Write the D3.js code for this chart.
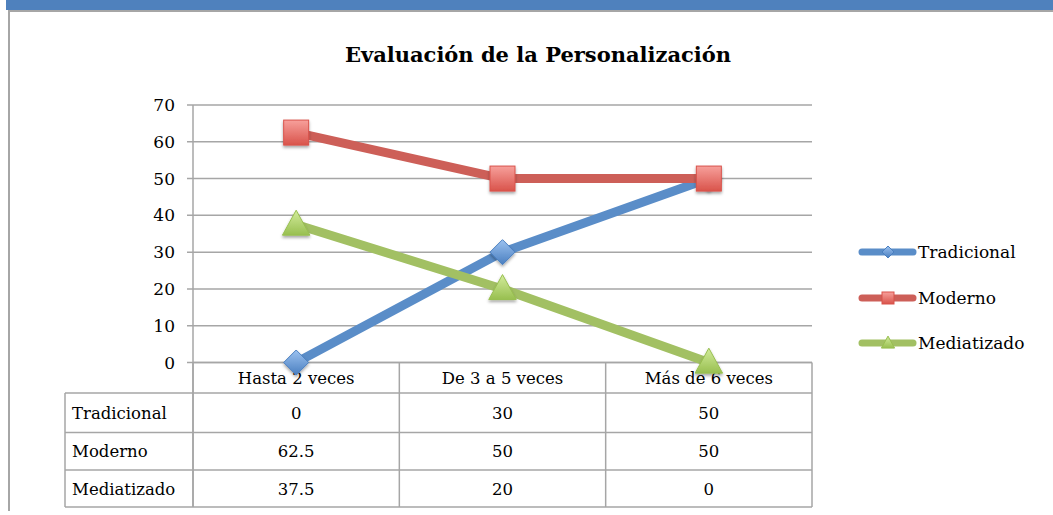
<!DOCTYPE html>
<html><head><meta charset="utf-8">
<script src="https://cdn.jsdelivr.net/npm/d3@7"></script>
<style>html,body{margin:0;padding:0;background:#fff;overflow:hidden}</style>
</head><body>
<svg id="c" width="1053" height="515"></svg>
<script>
const title = "Evaluación de la Personalización";
const categories = ["Hasta 2 veces", "De 3 a 5 veces", "Más de 6 veces"];
const seriesNames = ["Tradicional", "Moderno", "Mediatizado"];
const tradicional = [0, 30, 50];
const moderno = [62.5, 50, 50];
const mediatizado = [37.5, 20, 0];
const yTicks = [0, 10, 20, 30, 40, 50, 60, 70];

const seriesValues = [tradicional, moderno, mediatizado];
const colors = ["#5a8dc8", "#cd5f58", "#a2c063"];
const light = ["#9cc2f0", "#f7a09b", "#d3ec9c"];
const dark = ["#4a7fc0", "#d9534b", "#98bf50"];
const shapes = ["diamond", "square", "triangle"];
const FONT = "'DejaVu Serif', serif";

const svg = d3.select("#c");
const defs = svg.append("defs");
seriesNames.forEach((n, i) => {
  const g = defs.append("linearGradient").attr("id", "g" + i)
    .attr("x1", 0).attr("y1", 0).attr("x2", 0).attr("y2", 1);
  g.append("stop").attr("offset", "0%").attr("stop-color", light[i]);
  g.append("stop").attr("offset", "100%").attr("stop-color", dark[i]);
});
const f = defs.append("filter").attr("id", "sh").attr("x", "-50%").attr("y", "-50%").attr("width", "200%").attr("height", "200%");
f.append("feDropShadow").attr("dx", 0).attr("dy", 2).attr("stdDeviation", 1.5).attr("flood-color", "#000").attr("flood-opacity", 0.35);

// top blue band and frame
svg.append("rect").attr("x", 6).attr("y", 0).attr("width", 1047).attr("height", 10).attr("fill", "#4f81bd");
svg.append("path").attr("d", "M9,511 V11 H1053").attr("fill", "none").attr("stroke", "#a6a6a6").attr("stroke-width", 2);

// title
svg.append("text").attr("x", 538).attr("y", 62).attr("text-anchor", "middle")
  .attr("font-family", FONT).attr("font-weight", "bold").attr("font-size", 21).text(title);

const x = d3.scaleBand().domain(categories).range([193, 812]);
const y = d3.scaleLinear().domain([0, 70]).range([362.5, 105]);
const gridColor = "#a6a6a6";

// gridlines
svg.append("g").selectAll("line").data(yTicks).join("line")
  .attr("x1", 187).attr("x2", 812).attr("y1", d => y(d)).attr("y2", d => y(d))
  .attr("stroke", gridColor).attr("stroke-width", 1.5);
// y axis line
svg.append("line").attr("x1", 193).attr("x2", 193).attr("y1", y(70)).attr("y2", 507)
  .attr("stroke", gridColor).attr("stroke-width", 1.5);
// y tick labels
svg.append("g").selectAll("text").data(yTicks).join("text")
  .attr("x", 175).attr("y", d => y(d) + 6).attr("text-anchor", "end")
  .attr("font-family", FONT).attr("font-size", 17).text(d => d);

// data table
const rowTop = [362.5, 393, 432.5, 470, 507];
const tbl = svg.append("g").attr("stroke", gridColor).attr("stroke-width", 1.5);
tbl.append("line").attr("x1", 193).attr("x2", 812).attr("y1", rowTop[0]).attr("y2", rowTop[0]);
rowTop.slice(1).forEach(r => tbl.append("line").attr("x1", 65).attr("x2", 812).attr("y1", r).attr("y2", r));
tbl.append("line").attr("x1", 65).attr("x2", 65).attr("y1", rowTop[1]).attr("y2", rowTop[4]);
categories.forEach(c => {
  tbl.append("line").attr("x1", x(c) + x.bandwidth()).attr("x2", x(c) + x.bandwidth()).attr("y1", rowTop[0]).attr("y2", rowTop[4]);
});
tbl.append("line").attr("x1", x(categories[0])).attr("x2", x(categories[0])).attr("y1", rowTop[0]).attr("y2", rowTop[4]);

const cx = c => x(c) + x.bandwidth() / 2;
svg.append("g").selectAll("text").data(categories).join("text")
  .attr("x", d => cx(d)).attr("y", (rowTop[0] + rowTop[1]) / 2 + 6).attr("text-anchor", "middle")
  .attr("font-family", FONT).attr("font-size", 16.5).text(d => d);
seriesNames.forEach((n, i) => {
  const ym = (rowTop[i + 1] + rowTop[i + 2]) / 2 + 6;
  svg.append("text").attr("x", 72).attr("y", ym).attr("font-family", FONT).attr("font-size", 16.5).text(n);
  svg.append("g").selectAll("text").data(seriesValues[i]).join("text")
    .attr("x", (d, j) => cx(categories[j])).attr("y", ym).attr("text-anchor", "middle")
    .attr("font-family", FONT).attr("font-size", 16.5).text(d => d);
});

function marker(g, shape, i, s) {
  let el;
  if (shape === "diamond") el = g.append("path").attr("d", `M0,${-s} L${s},0 L0,${s} L${-s},0 Z`);
  else if (shape === "square") el = g.append("rect").attr("x", -s).attr("y", -s).attr("width", 2 * s).attr("height", 2 * s);
  else el = g.append("path").attr("d", `M0,${-s * 1.15} L${s * 1.1},${s * 0.85} L${-s * 1.1},${s * 0.85} Z`);
  el.attr("fill", `url(#g${i})`).attr("stroke", dark[i]).attr("stroke-width", 1);
  return el;
}

const line = d3.line().x((d, j) => cx(categories[j])).y(d => y(d));
seriesValues.forEach((vals, i) => {
  svg.append("path").datum(vals).attr("d", line).attr("fill", "none")
    .attr("stroke", colors[i]).attr("stroke-width", 9).attr("stroke-linejoin", "round");
});
seriesValues.forEach((vals, i) => {
  vals.forEach((v, j) => {
    const g = svg.append("g").attr("transform", `translate(${cx(categories[j])},${y(v)})`).attr("filter", "url(#sh)");
    marker(g, shapes[i], i, 12.5);
  });
});

// legend
const legY = [252, 298, 343];
seriesNames.forEach((n, i) => {
  svg.append("line").attr("x1", 862).attr("x2", 913).attr("y1", legY[i]).attr("y2", legY[i])
    .attr("stroke", colors[i]).attr("stroke-width", 7).attr("stroke-linecap", "round");
  const g = svg.append("g").attr("transform", `translate(888,${legY[i]})`);
  marker(g, shapes[i], i, 6);
  svg.append("text").attr("x", 918).attr("y", legY[i] + 6).attr("font-family", FONT).attr("font-size", 17).text(n);
});
</script>
</body></html>
